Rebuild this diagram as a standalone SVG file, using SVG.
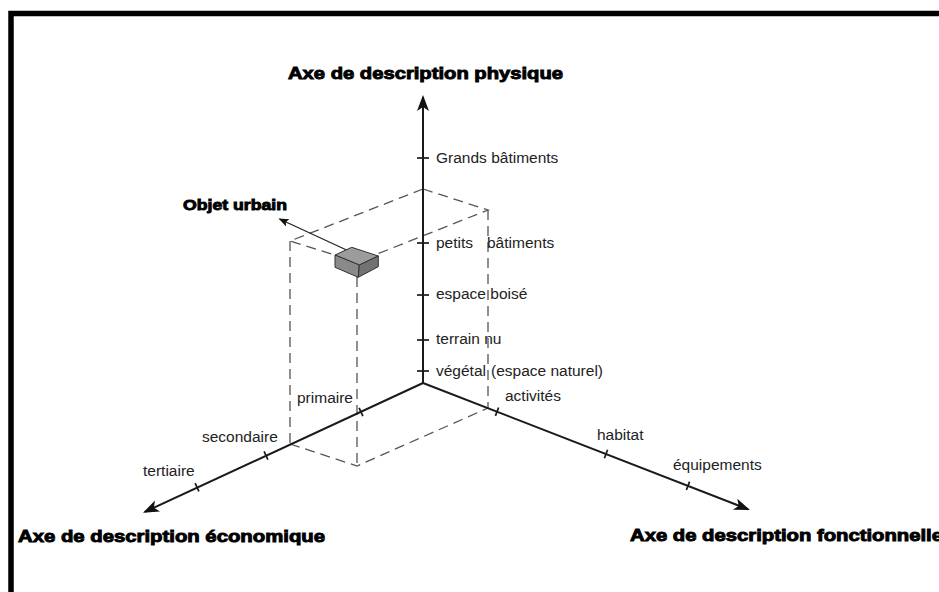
<svg xmlns="http://www.w3.org/2000/svg" width="939" height="592" viewBox="0 0 939 592">
<style>
.axis{stroke:#1a1a1a;stroke-width:2;fill:none}
.tick{stroke:#1a1a1a;stroke-width:1.7;fill:none}
.dash{stroke:#555;stroke-width:1.3;fill:none;stroke-dasharray:10 6}
.lbl{font-family:"Liberation Sans",Arial,Helvetica,sans-serif;font-size:15.5px;fill:#222}
.ttl{font-family:"Liberation Sans",Arial,Helvetica,sans-serif;font-size:16.5px;font-weight:bold;fill:#000;stroke:#000;stroke-width:0.9}
</style>
<defs>
<marker id="ah" markerUnits="userSpaceOnUse" markerWidth="18" markerHeight="14" refX="14" refY="6" orient="auto">
<path d="M0,0 L16,6 L0,12 L4,6 Z" fill="#111"/>
</marker>
<marker id="ahs" markerUnits="userSpaceOnUse" markerWidth="12" markerHeight="10" refX="9" refY="4" orient="auto">
<path d="M0,0 L10,4 L0,8 L2,4 Z" fill="#111"/>
</marker>
</defs>
<rect x="0" y="0" width="939" height="592" fill="#fff"/>
<rect x="11" y="13.5" width="960" height="620" fill="#fff" stroke="#000" stroke-width="5.5"/>

<g id="box-dashed">
<path class="dash" d="M423,189 L290,241 L357,262"/>
<path class="dash" d="M423,189 L488,210 L357,262"/>
<path class="dash" d="M290,241 L290,444"/>
<path class="dash" d="M488,210 L488,408"/>
<path class="dash" d="M357,277 L357,466"/>
<path class="dash" d="M290,444 L357,466 L488,408"/>
</g>

<g id="connectors">
<line class="axis" x1="423" y1="383" x2="423" y2="97" marker-end="url(#ah)"/>
<line class="axis" x1="423" y1="383" x2="144.8" y2="511.9" marker-end="url(#ah)"/>
<line class="axis" x1="423" y1="383" x2="748.1" y2="509.3" marker-end="url(#ah)"/>
<line x1="353" y1="253" x2="279.5" y2="219" stroke="#222" stroke-width="1.3" marker-end="url(#ahs)"/>
</g>

<g id="ticks">
<line class="tick" x1="417" y1="158" x2="429" y2="158"/>
<line class="tick" x1="417" y1="243" x2="429" y2="243"/>
<line class="tick" x1="417" y1="295" x2="429" y2="295"/>
<line class="tick" x1="417" y1="340" x2="429" y2="340"/>
<line class="tick" x1="417" y1="371" x2="429" y2="371"/>
<line class="tick" x1="359.1" y1="407.9" x2="362.9" y2="416.1"/>
<line class="tick" x1="264.1" y1="451.4" x2="267.9" y2="459.6"/>
<line class="tick" x1="195.1" y1="483.1" x2="198.9" y2="491.3"/>
<line class="tick" x1="498.6" y1="407.5" x2="495.4" y2="415.9"/>
<line class="tick" x1="607.6" y1="449.8" x2="604.4" y2="458.2"/>
<line class="tick" x1="689.6" y1="481.6" x2="686.4" y2="490"/>
</g>

<g id="objet-urbain">
<path d="M335,255 L351.7,247.3 L378.3,256 L359.3,265 Z" fill="#9c9c9c" stroke="#333" stroke-width="1"/>
<path d="M335,255 L359.3,265 L358.3,277.3 L335,267.3 Z" fill="#8a8a8a" stroke="#333" stroke-width="1"/>
<path d="M359.3,265 L378.3,256 L378.3,266.7 L358.3,277.3 Z" fill="#727272" stroke="#333" stroke-width="1"/>
<text class="ttl" x="183" y="210" style="font-size:15px" textLength="104" lengthAdjust="spacingAndGlyphs">Objet urbain</text>
</g>

<g id="axe-physique">
<text class="ttl" x="288" y="79" textLength="275" lengthAdjust="spacingAndGlyphs">Axe de description physique</text>
<text class="lbl" x="436" y="163">Grands bâtiments</text>
<text class="lbl" x="436" y="248">petits<tspan x="487">bâtiments</tspan></text>
<text class="lbl" x="436" y="299">espace boisé</text>
<text class="lbl" x="436" y="344">terrain nu</text>
<text class="lbl" x="436" y="376">végétal<tspan x="491">(espace naturel)</tspan></text>
</g>

<g id="axe-economique">
<text class="ttl" x="18" y="542" textLength="307" lengthAdjust="spacingAndGlyphs">Axe de description économique</text>
<text class="lbl" x="297" y="403">primaire</text>
<text class="lbl" x="202" y="442">secondaire</text>
<text class="lbl" x="143" y="476">tertiaire</text>
</g>

<g id="axe-fonctionnel">
<text class="ttl" x="630" y="541" textLength="313" lengthAdjust="spacingAndGlyphs">Axe de description fonctionnelle</text>
<text class="lbl" x="505" y="401">activités</text>
<text class="lbl" x="597" y="440">habitat</text>
<text class="lbl" x="673" y="470">équipements</text>
</g>
</svg>
